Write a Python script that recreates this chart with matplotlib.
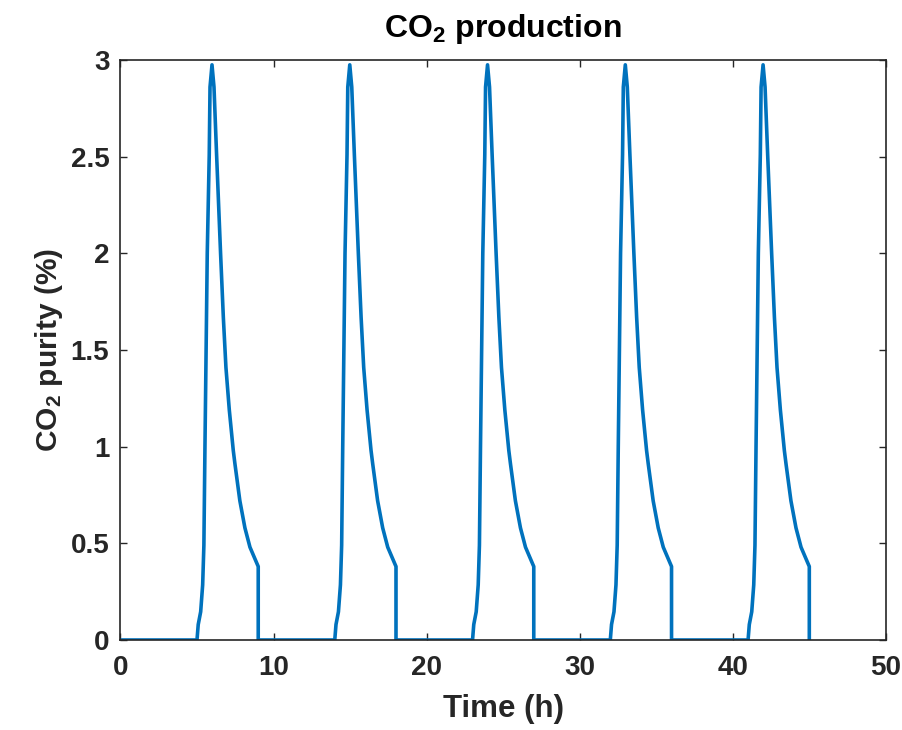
import matplotlib
matplotlib.use("Agg")
import matplotlib.pyplot as plt
import numpy as np

# start of each CO2 production cycle (h)
cycle_start = [5, 14, 23, 32, 41]

# shape of one cycle: time since cycle start (h) and purity (%)
cycle_dt = [0.0, 0.08, 0.24, 0.37, 0.45, 0.52, 0.67, 0.80, 0.85,
            0.98, 1.11, 1.28, 1.54, 1.72, 1.89, 2.11, 2.37, 2.48, 2.80,
            3.13, 3.46, 4.0, 4.0]
cycle_val = [0.0, 0.08, 0.146, 0.285, 0.49, 1.0, 2.0, 2.51, 2.86,
             2.975, 2.86, 2.51, 2.0, 1.67, 1.41, 1.19, 0.98, 0.91, 0.72,
             0.58, 0.48, 0.38, 0.0]

t = [0.0]
y = [0.0]
for s in cycle_start:
    for dt, v in zip(cycle_dt, cycle_val):
        t.append(s + dt)
        y.append(v)

plt.rcParams["font.family"] = ["Liberation Sans", "DejaVu Sans"]
plt.rcParams["font.weight"] = "bold"
plt.rcParams["mathtext.fontset"] = "custom"
plt.rcParams["mathtext.rm"] = "Liberation Sans:bold"
plt.rcParams["mathtext.bf"] = "Liberation Sans:bold"
plt.rcParams["mathtext.default"] = "bf"

dark = "#262626"

fig = plt.figure(figsize=(9.03, 7.30), dpi=100)
ax = fig.add_axes([0.1334, 0.1233, 0.8476, 0.7945])

ax.plot(t, y, color="#0072BD", linewidth=2.6)

ax.set_xlim(0, 50)
ax.set_ylim(0, 3)
ax.set_xticks(np.arange(0, 51, 10))
ax.set_yticks([0, 0.5, 1, 1.5, 2, 2.5, 3])
ax.set_yticklabels(["0", "0.5", "1", "1.5", "2", "2.5", "3"])

ax.tick_params(direction="in", length=5, width=1, colors=dark,
               labelsize=20, top=True, right=True)
ax.tick_params(axis="x", pad=10.5)
ax.tick_params(axis="y", pad=8)
for lab in ax.get_xticklabels() + ax.get_yticklabels():
    lab.set_fontweight("bold")
for sp in ax.spines.values():
    sp.set_color(dark)
    sp.set_linewidth(1.2)

ax.set_xlabel("Time (h)", fontsize=22.5, fontweight="bold", color=dark)
ax.set_ylabel("CO$_2$ purity (%)", fontsize=21.5, fontweight="bold", color=dark)
ax.xaxis.set_label_coords(0.5, -0.093)
ax.yaxis.set_label_coords(-0.072, 0.5)
ax.set_title("CO$_2$ production", fontsize=23, fontweight="bold", color="black", pad=16.5)

fig.savefig("out.png", dpi=100)
